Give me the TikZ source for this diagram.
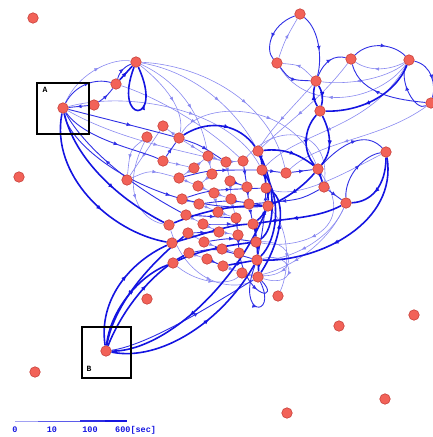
\documentclass[tikz,border=0pt]{standalone}
\usepackage{fontspec}
\newfontfamily\lmono{Liberation Mono}
\usetikzlibrary{arrows.meta,decorations.markings}
\definecolor{eb}{RGB}{20,20,225}
\definecolor{nf}{RGB}{242,98,88}
\definecolor{nd}{RGB}{200,65,60}
\pgfdeclarelayer{bg}
\pgfsetlayers{bg,main}
\tikzset{
  vx/.style={circle,fill=nf,draw=nd,line width=0.6pt,minimum size=10.5pt,inner sep=0pt},
  th/.style={draw=eb,line width=1.6pt,postaction={decorate},
    decoration={markings,mark=at position 0.6 with {\arrow{Latex[length=5.5pt,width=4.5pt]}}}},
  md/.style={draw=eb!88!white,line width=0.9pt,postaction={decorate},
    decoration={markings,mark=at position 0.6 with {\arrow{Latex[length=5pt,width=4pt]}}}},
  tn/.style={draw=eb!50!white,line width=0.6pt,postaction={decorate},
    decoration={markings,mark=at position 0.6 with {\arrow{Latex[length=4.5pt,width=3.5pt]}}}},
  boxframe/.style={draw=black,line width=1.3pt},
  boxlabel/.style={font=\lmono\fontsize{8}{9}\selectfont\bfseries,inner sep=0pt},
  legendlabel/.style={font=\lmono\fontsize{8.5}{9}\selectfont\bfseries,text=eb,inner sep=0pt,anchor=base}
}
\begin{document}
\begin{tikzpicture}[x=1pt,y=-1pt]
\useasboundingbox (0,0) rectangle (433,437);
% isolated
\foreach \n/\p in {i1/{(33,18)},i2/{(19,177)},i3/{(35,372)},i4/{(287,413)},i5/{(385,399)},i6/{(414,315)},i7/{(339,326)},i8/{(278,296)},i9/{(147,299)}}
  \node[vx] (\n) at \p {};
% upper left
\node[vx] (A) at (63,108) {};
\node[vx] (a1) at (94,105) {};
\node[vx] (a2) at (116,84) {};
\node[vx] (a3) at (136,62) {};
\node[vx] (a4) at (163,126) {};
\node[vx] (a5) at (147,137) {};
\node[vx] (a6) at (179,138) {};
\node[vx] (a7) at (127,180) {};
\node[vx] (B) at (106,351) {};
% top right
\node[vx] (t1) at (300,14) {};
\node[vx] (t2) at (277,63) {};
\node[vx] (t3) at (316,81) {};
\node[vx] (t4) at (351,59) {};
\node[vx] (t5) at (409,60) {};
\node[vx] (t6) at (431,103) {};
\node[vx] (t7) at (320,111) {};
% right
\node[vx] (r1) at (386,152) {};
\node[vx] (r2) at (318,169) {};
\node[vx] (r3) at (286,173) {};
\node[vx] (r4) at (324,187) {};
\node[vx] (r5) at (346,203) {};
% cluster
\foreach \n/\p in {c1/{(163,161)},c2/{(208,156)},c3/{(226,162)},c4/{(243,161)},c5/{(258,151)},c6/{(194,168)},c7/{(212,174)},c8/{(262,170)},
 c9/{(179,178)},c10/{(198,186)},c11/{(230,181)},c12/{(247,187)},c13/{(266,188)},
 c14/{(214,193)},c15/{(182,199)},c16/{(199,204)},c17/{(231,199)},c18/{(249,204)},c19/{(268,206)},
 c20/{(218,212)},c21/{(186,215)},c22/{(236,218)},c23/{(169,225)},c24/{(203,224)},c25/{(253,224)},
 c26/{(188,233)},c27/{(219,232)},c28/{(238,235)},c29/{(172,243)},c30/{(204,242)},c31/{(256,242)},
 c32/{(189,253)},c33/{(222,249)},c34/{(239,253)},c35/{(173,263)},c36/{(207,259)},c37/{(257,260)},c38/{(223,266)},
 c39/{(242,273)},c40/{(258,277)}}
  \node[vx] (\n) at \p {};

\begin{pgfonlayer}{bg}
% ---------- thin edges
\draw[tn] (A) .. controls (80,70) and (115,58) .. (a3);
\draw[tn] (a3) .. controls (185,70) and (230,100) .. (c5);
\draw[tn] (a3) .. controls (175,80) and (200,110) .. (c2);
\draw[tn] (a3) .. controls (165,85) and (185,110) .. (a6);
\draw[tn] (a3) .. controls (200,65) and (270,100) .. (r3);
\draw[tn] (a2) .. controls (150,95) and (200,120) .. (c4);
\draw[tn] (A) .. controls (120,140) and (180,150) .. (c3);
\draw[tn] (A) .. controls (130,90) and (230,110) .. (c8);
\draw[tn] (a4) -- (a7);
\draw[tn] (a5) .. controls (130,150) .. (a7);
\draw[tn] (a7) .. controls (150,170) .. (c9);
\draw[tn] (a6) -- (a4);
\draw[tn] (a6) -- (c2);
\draw[tn] (a6) .. controls (200,100) and (290,100) .. (r2);
\draw[tn] (t2) .. controls (285,40) .. (t1);
\draw[tn] (t3) .. controls (300,65) .. (t2);
\draw[tn] (t5) .. controls (390,70) and (370,72) .. (t4);
\draw[tn] (t5) .. controls (385,80) and (345,85) .. (t3);
\draw[tn] (t5) .. controls (380,100) and (310,115) .. (t2);
\draw[tn] (t4) .. controls (320,100) and (290,120) .. (c5);
\draw[tn] (t5) .. controls (370,130) and (300,130) .. (c8);
\draw[tn] (t3) .. controls (290,110) and (270,130) .. (c5);
\draw[tn] (t6) .. controls (380,140) and (320,140) .. (r3);
\draw[tn] (r1) .. controls (350,170) and (300,200) .. (c13);
\draw[tn] (r5) .. controls (330,240) and (290,260) .. (c37);
\draw[tn] (r5) .. controls (320,260) and (260,280) .. (c39);
\draw[tn] (c19) .. controls (290,230) and (290,270) .. (i8);
\draw[tn] (c37) .. controls (295,250) and (300,290) .. (c40);
\draw[tn] (c31) .. controls (300,240) and (300,285) .. (c39);
\draw[tn] (c1) -- (c6); \draw[tn] (c6) -- (c2); \draw[tn] (c2) -- (c3);
\draw[tn] (c3) -- (c4); \draw[tn] (c9) -- (c10); \draw[tn] (c10) -- (c14);
\draw[tn] (c14) -- (c17); \draw[tn] (c16) -- (c20); \draw[tn] (c15) -- (c16);
\draw[tn] (c20) -- (c22); \draw[tn] (c24) -- (c27); \draw[tn] (c27) -- (c28);
\draw[tn] (c30) -- (c33); \draw[tn] (c33) -- (c34); \draw[tn] (c36) -- (c38);
\draw[tn] (c38) -- (c39); \draw[tn] (c21) -- (c24); \draw[tn] (c11) -- (c17);
\draw[tn] (c7) -- (c10); \draw[tn] (c6) -- (c9);
\draw[tn] (c14) -- (c20); \draw[tn] (c17) -- (c22); \draw[tn] (c26) -- (c30);
\draw[tn] (c32) -- (c36); \draw[tn] (c3) -- (c11); \draw[tn] (c2) -- (c7);
\draw[tn] (c23) .. controls (190,290) and (240,290) .. (c40);
\draw[tn] (c35) .. controls (200,285) and (230,285) .. (c39);
\draw[tn] (a5) .. controls (120,190) and (140,220) .. (c23);
\draw[tn] (r2) .. controls (360,230) and (300,250) .. (c31);
\draw[tn] (c4) .. controls (280,120) and (330,130) .. (r4);
% ---------- medium edges
\draw[md] (A) .. controls (75,85) and (95,78) .. (a2);
\draw[md] (a1) to[bend right=10] (a2);
\draw[md] (a2) to[bend left=25] (a3);
\draw[md] (a1) -- (A);
\draw[md] (A) .. controls (110,120) and (150,130) .. (a6);
\draw[md] (A) .. controls (70,150) and (160,215) .. (c19);
\draw[md] (A) .. controls (85,140) and (140,150) .. (c1);
\draw[md] (c21) .. controls (120,180) and (80,140) .. (A);
\draw[md] (a6) .. controls (200,145) .. (c3);
\draw[md] (c1) .. controls (172,148) .. (a6);
\draw[md] (t1) .. controls (270,25) and (265,50) .. (t2);
\draw[md] (t1) .. controls (320,30) and (322,60) .. (t3);
\draw[md] (t2) .. controls (290,80) .. (t3);
\draw[md] (t3) .. controls (325,60) and (335,55) .. (t4);
\draw[md] (t4) .. controls (370,40) and (395,45) .. (t5);
\draw[md] (t6) .. controls (400,100) and (360,95) .. (t4);
\draw[md] (t5) .. controls (432,65) and (436,85) .. (t6);
\draw[md] (t6) .. controls (415,112) and (398,80) .. (t5);
\draw[md] (r2) .. controls (350,135) and (370,135) .. (r1);
\draw[md] (r5) .. controls (345,175) and (365,155) .. (r1);
\draw[md] (r4) -- (r5);
\draw[md] (r3) -- (r2);
\draw[md] (c8) -- (r3);
\draw[md] (r4) .. controls (300,200) .. (c18);
\draw[md] (c37) .. controls (265,220) and (270,180) .. (c5);
\draw[md] (c12) -- (c18); \draw[md] (c18) -- (c25); \draw[md] (c22) -- (c28);
\draw[md] (c28) -- (c34); \draw[md] (c4) -- (c12); \draw[md] (c11) -- (c12);
\draw[md] (c32) .. controls (215,248) .. (c37);
\draw[md] (c15) .. controls (210,190) .. (c13);
\draw[md] (c21) -- (c22);
\draw[md] (c26) -- (c27);
\draw[md] (c36) -- (c38);
\draw[md] (c30) .. controls (230,238) .. (c31);
\draw[md] (c9) .. controls (210,170) .. (c8);
\draw[md] (c16) .. controls (230,200) .. (c19);
\draw[md] (c24) .. controls (230,224) .. (c25);
\draw[md] (B) .. controls (150,345) and (220,300) .. (c40);
\draw[md] (c37) .. controls (235,318) and (278,318) .. (c40);
\draw[md] (c34) .. controls (250,300) and (280,300) .. (c40);
% ---------- thick edges
\draw[th] (a2) -- (a3);
\draw[th] (a3) .. controls (112,125) and (165,125) .. (a3);
\draw[th] (A) .. controls (75,160) and (120,200) .. (c23);
\draw[th] (A) .. controls (50,175) and (110,232) .. (c29);
\draw[th] (a6) .. controls (210,118) and (240,125) .. (c5);
\draw[th] (t5) .. controls (395,95) and (360,112) .. (t7);
\draw[th] (t3) to[bend left=22] (t7);
\draw[th] (t7) to[bend left=22] (t3);
\draw[th] (t7) .. controls (303,130) and (303,152) .. (r2);
\draw[th] (t7) .. controls (332,135) and (332,152) .. (r2);
\draw[th] (r1) .. controls (386,185) and (372,202) .. (r5);
\draw[th] (r1) .. controls (398,222) and (320,262) .. (c37);
\draw[th] (r2) -- (r4);
\draw[th] (c5) .. controls (285,148) and (300,155) .. (r2);
\draw[th] (r2) .. controls (300,190) and (282,200) .. (c19);
\draw[th] (r5) .. controls (318,218) and (290,218) .. (c25);
\draw[th] (c5) to[bend left=10] (c8);
\draw[th] (c8) to[bend left=10] (c13);
\draw[th] (c13) to[bend left=10] (c19);
\draw[th] (c19) to[bend left=10] (c25);
\draw[th] (c25) to[bend left=10] (c31);
\draw[th] (c31) to[bend left=10] (c37);
\draw[th] (c37) to[bend left=10] (c40);
\draw[th] (c5) .. controls (277,190) and (275,230) .. (c31);
\draw[th] (c8) .. controls (282,200) and (277,240) .. (c37);
\draw[th] (c40) .. controls (282,240) and (287,200) .. (c13);
\draw[th] (c23) .. controls (200,212) and (230,205) .. (c19);
\draw[th] (c29) .. controls (210,232) and (230,225) .. (c25);
\draw[th] (c35) .. controls (200,250) and (230,245) .. (c31);
\draw[th] (c38) -- (c37);
\draw[th] (B) .. controls (110,310) and (140,275) .. (c35);
\draw[th] (B) .. controls (122,310) and (152,272) .. (c32);
\draw[th] (B) .. controls (98,300) and (130,262) .. (c29);
\draw[th] (c26) .. controls (140,272) and (112,312) .. (B);
\draw[th] (B) .. controls (160,362) and (222,322) .. (c37);
\draw[th] (c19) .. controls (232,292) and (160,352) .. (B);
\end{pgfonlayer}

% boxes
\draw[boxframe] (37,83) rectangle (89,134);
\node[boxlabel] (lA) at (45,90) {A};
\draw[boxframe] (82,327) rectangle (131,378);
\node[boxlabel] (lB) at (89,369) {B};

% legend
\draw[eb!40!white,line width=0.5pt] (15,421) -- (38,421);
\draw[eb!70!white,line width=0.9pt] (38,421) -- (80,421);
\draw[eb!90!white,line width=1.3pt] (80,421) -- (105,421);
\draw[eb,line width=1.8pt] (105,421) -- (127,421);
\node[legendlabel] (l0) at (15,432) {0};
\node[legendlabel] (l1) at (52,432) {10};
\node[legendlabel] (l2) at (90,432) {100};
\node[legendlabel,anchor=base west] (l3) at (115,432) {600[sec]};
\end{tikzpicture}
\end{document}
